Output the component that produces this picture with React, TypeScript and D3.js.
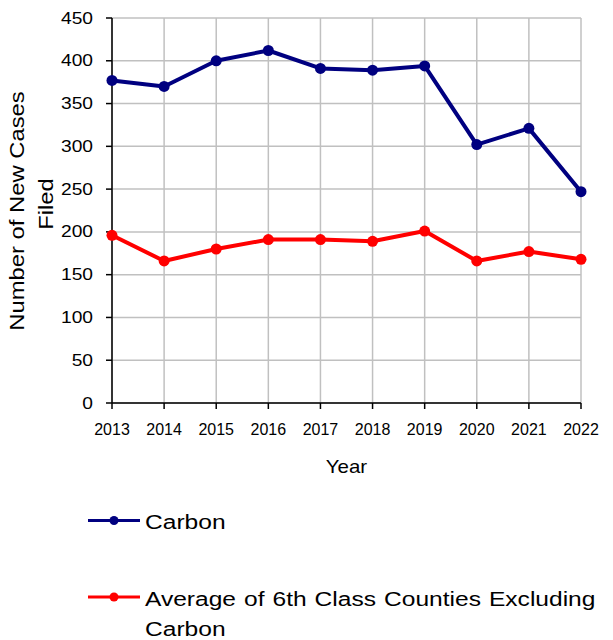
import React from "react";
import * as d3 from "d3";

const years = ["2013", "2014", "2015", "2016", "2017", "2018", "2019", "2020", "2021", "2022"];
const carbon = [377, 370, 400, 412, 391, 389, 394, 302, 321, 247];
const average = [196, 166, 180, 191, 191, 189, 201, 166, 177, 168];
const yTicks = [0, 50, 100, 150, 200, 250, 300, 350, 400, 450];

const W = 613;
const H = 640;
const left = 112;
const right = 581;
const top = 18;
const bottom = 403;
const font = "Liberation Sans, Arial, sans-serif";

function SText(props: {
  x: number;
  y: number;
  sx: number;
  size: number;
  anchor?: string;
  rotate?: number;
  children: React.ReactNode;
  ls?: number;
  ws?: number;
}) {
  const { x, y, sx, size, anchor, rotate, children, ls, ws } = props;
  return (
    <g transform={`translate(${x},${y}) rotate(${rotate || 0}) scale(${sx},1)`}>
      <text
        x={0}
        y={0}
        textAnchor={anchor || "start"}
        fontSize={size}
        fill="#000"
        letterSpacing={ls || 0}
        wordSpacing={ws || 0}
      >
        {children}
      </text>
    </g>
  );
}

export default function App() {
  const x = d3.scalePoint<string>().domain(years).range([left, right]);
  const y = d3.scaleLinear().domain([0, 450]).range([bottom, top]);
  const line = d3
    .line<number>()
    .x((_, i) => x(years[i]) as number)
    .y((d) => y(d));

  const series = [
    { name: "Carbon", values: carbon, color: "#000080" },
    { name: "Average", values: average, color: "#ff0000" },
  ];

  return (
    <svg
      width={W}
      height={H}
      style={{ position: "absolute", left: 0, top: 0, background: "#fff" }}
      fontFamily={font}
    >
      {/* grid */}
      {yTicks.map((t) => (
        <line key={"gy" + t} x1={left} x2={right} y1={y(t)} y2={y(t)} stroke="#c0c0c0" strokeWidth={1.5} />
      ))}
      {years.map((yr) => (
        <line key={"gx" + yr} x1={x(yr)} x2={x(yr)} y1={top} y2={bottom} stroke="#c0c0c0" strokeWidth={1.5} />
      ))}
      {/* axes */}
      <line x1={left} x2={left} y1={top} y2={bottom} stroke="#000" strokeWidth={1.5} />
      <line x1={left} x2={right} y1={bottom} y2={bottom} stroke="#000" strokeWidth={1.5} />
      {yTicks.map((t) => (
        <g key={"ty" + t}>
          <line x1={left - 6} x2={left} y1={y(t)} y2={y(t)} stroke="#000" strokeWidth={1.5} />
          <SText x={left - 19} y={y(t) + 5.6} sx={1.2} size={16} anchor="end">
            {t}
          </SText>
        </g>
      ))}
      {years.map((yr) => (
        <g key={"tx" + yr}>
          <line x1={x(yr)} x2={x(yr)} y1={bottom} y2={bottom + 6} stroke="#000" strokeWidth={1.5} />
          <text x={x(yr)} y={435} textAnchor="middle" fontSize={16} fill="#000">
            {yr}
          </text>
        </g>
      ))}
      <SText x={346.5} y={472.5} sx={1.17} size={17.5} anchor="middle">
        Year
      </SText>
      <SText x={24} y={211} sx={1.22} size={19.5} anchor="middle" rotate={-90}>
        Number of New Cases
      </SText>
      <SText x={53} y={204} sx={1.22} size={19.5} anchor="middle" rotate={-90}>
        Filed
      </SText>
      {/* series */}
      {series.map((s) => (
        <g key={s.name}>
          <path d={line(s.values) as string} fill="none" stroke={s.color} strokeWidth={4} strokeLinejoin="round" />
          {s.values.map((v, i) => (
            <circle key={i} cx={x(years[i])} cy={y(v)} r={5.5} fill={s.color} />
          ))}
        </g>
      ))}
      {/* legend */}
      <g>
        <line x1={88} x2={140} y1={520.5} y2={520.5} stroke="#000080" strokeWidth={3} />
        <circle cx={114} cy={520.5} r={4.5} fill="#000080" />
        <SText x={145} y={528.5} sx={1.17} size={21} ws={1}>
          Carbon
        </SText>
        <line x1={88} x2={140} y1={597} y2={597} stroke="#ff0000" strokeWidth={3} />
        <circle cx={114} cy={597} r={4.5} fill="#ff0000" />
        <SText x={145} y={605.5} sx={1.17} size={21} ws={1}>
          Average of 6th Class Counties Excluding
        </SText>
        <SText x={145} y={636} sx={1.17} size={21} ws={1}>
          Carbon
        </SText>
      </g>
    </svg>
  );
}
